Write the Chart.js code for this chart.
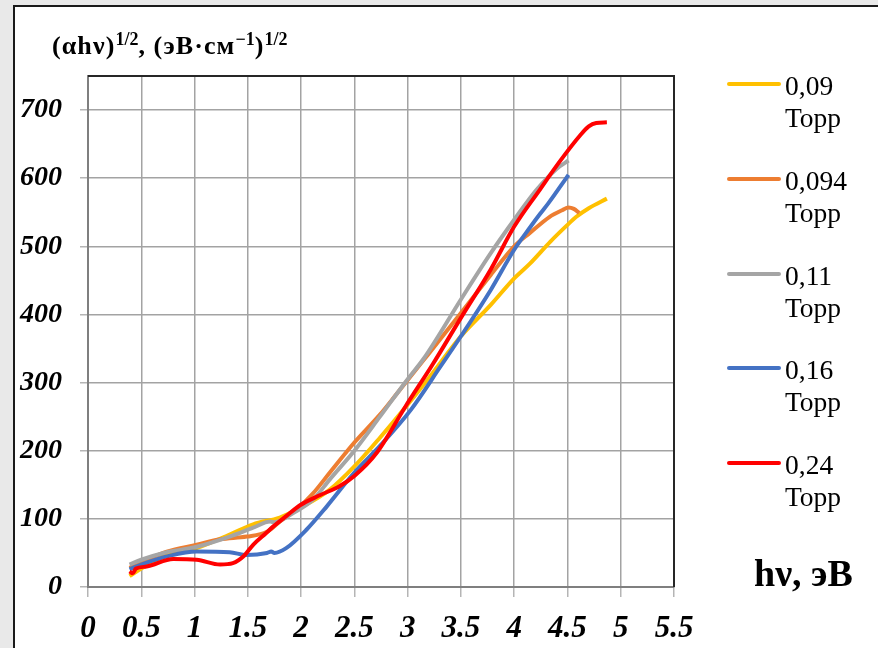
<!DOCTYPE html>
<html lang="ru">
<head>
<meta charset="utf-8">
<title>(αhν)^1/2 — hν</title>
<script src="https://cdn.jsdelivr.net/npm/chart.js@4/dist/chart.umd.min.js"></script>
<style>
  html, body { margin: 0; padding: 0; }
  body {
    width: 878px; height: 648px; position: relative; overflow: hidden;
    background: #e9e9e9;
    font-family: "Liberation Serif", "Times New Roman", serif;
    color: #000;
  }
  #frame {
    position: absolute; left: 13px; top: 5px; width: 900px; height: 700px;
    background: #fff; border-left: 2px solid #1a1a1a; border-top: 2px solid #1a1a1a;
  }
  #chart { position: absolute; left: 0; top: 0; }
  .ytitle {
    position: absolute; left: 52px; top: 31px; font-weight: bold; font-size: 26px;
    letter-spacing: 1.1px; white-space: nowrap; line-height: 30px;
  }
  .ytitle sup { font-size: 18px; line-height: 0; vertical-align: 9px; letter-spacing: 0; }
  .xtitle {
    position: absolute; left: 754px; top: 553px; font-weight: bold; font-size: 38px;
    white-space: nowrap; line-height: 40px;
  }
  #legend { position: absolute; left: 727px; top: 0; }
  .item { position: absolute; left: 0; width: 150px; }
  .swatch { position: absolute; left: 0; top: -2px; width: 54px; height: 4px; border-radius: 2px; }
  .label { position: absolute; left: 58px; top: -14px; font-size: 27.5px; line-height: 32px; white-space: nowrap; }
</style>
</head>
<body>
<div id="frame"></div>
<canvas id="chart" width="878" height="648"></canvas>
<div class="ytitle">(αhν)<sup>1/2</sup>, (эВ·см<sup>−1</sup>)<sup>1/2</sup></div>
<div class="xtitle">hν, эВ</div>
<div id="legend"></div>
<script>
// ---------- данные: hν (эВ) и (αhν)^1/2 для каждого давления ----------
const hv09  = [0.39, 0.5, 0.71, 1.02, 1.33, 1.55, 1.8, 2.0, 2.27, 2.5, 2.74, 2.96, 3.21, 3.5, 3.78, 4.0, 4.15, 4.34, 4.49, 4.58, 4.7, 4.87];
const y09   = [16, 27, 45, 57, 77, 92, 102, 117, 143, 177, 219, 260, 309, 368, 414, 453, 475, 507, 530, 543, 556, 570];

const hv094 = [0.39, 0.5, 0.74, 1.02, 1.24, 1.49, 1.68, 1.8, 1.96, 2.11, 2.27, 2.5, 2.74, 2.9, 3.15, 3.5, 3.78, 4.0, 4.15, 4.33, 4.45, 4.51, 4.56, 4.61];
const y094  = [28, 36, 52, 62, 70, 74, 81, 96, 114, 137, 168, 212, 253, 284, 333, 402, 458, 500, 520, 543, 553, 557, 555, 549];

const hv011 = [0.39, 0.5, 0.71, 1.02, 1.33, 1.55, 1.71, 1.75, 1.93, 2.11, 2.27, 2.5, 2.74, 3.0, 3.15, 3.5, 3.78, 4.0, 4.21, 4.4, 4.51];
const y011  = [33, 40, 50, 59, 74, 87, 96, 95, 109, 128, 158, 200, 250, 305, 335, 422, 490, 539, 583, 614, 626];

const hv016 = [0.39, 0.5, 0.77, 1.02, 1.33, 1.49, 1.68, 1.72, 1.75, 1.86, 2.05, 2.24, 2.5, 2.74, 3.03, 3.31, 3.5, 3.78, 4.0, 4.15, 4.24, 4.32, 4.51];
const y016  = [26, 33, 46, 52, 51, 47, 50, 52, 50, 57, 84, 118, 168, 207, 260, 324, 368, 436, 495, 528, 547, 563, 605];

const hv024 = [0.39, 0.42, 0.45, 0.55, 0.8, 1.02, 1.24, 1.36, 1.46, 1.55, 1.67, 1.74, 1.86, 1.99, 2.18, 2.36, 2.5, 2.71, 2.98, 3.24, 3.5, 3.78, 4.0, 4.24, 4.43, 4.62, 4.7, 4.77, 4.87];
const y024  = [23, 20, 27, 30, 41, 40, 33, 35, 45, 62, 79, 89, 104, 120, 135, 148, 163, 197, 265, 328, 395, 466, 529, 583, 625, 663, 676, 681, 682];

const seriesNames  = [['0,09', 'Торр'], ['0,094', 'Торр'], ['0,11', 'Торр'], ['0,16', 'Торр'], ['0,24', 'Торр']];
const seriesColors = ['#FFC000', '#ED7D31', '#A5A5A5', '#4472C4', '#FF0000'];
const seriesX = [hv09, hv094, hv011, hv016, hv024];
const seriesY = [y09, y094, y011, y016, y024];

// ---------- оси ----------
const xMin = 0, xMax = 5.5, xStep = 0.5;
const yMin = 0, yMax = 750, yStep = 100;

const FONT = '"Liberation Serif", "Times New Roman", serif';

// рамка области построения (верх и правый край)
const plotFrame = {
  id: 'plotFrame',
  beforeDatasetsDraw(chart) {
    const { ctx, chartArea: a } = chart;
    ctx.save();
    ctx.strokeStyle = '#262626';
    ctx.lineWidth = 2;
    ctx.beginPath();
    ctx.moveTo(a.left, a.top);
    ctx.lineTo(a.right, a.top);
    ctx.lineTo(a.right, a.bottom);
    ctx.stroke();
    ctx.restore();
  }
};

const datasets = seriesY.map((ys, i) => ({
  label: seriesNames[i].join(' '),
  data: ys.map((y, k) => ({ x: seriesX[i][k], y })),
  borderColor: seriesColors[i],
  backgroundColor: seriesColors[i],
  borderWidth: 4,
  pointRadius: 0,
  showLine: true,
  fill: false,
  cubicInterpolationMode: 'monotone',
  order: seriesY.length - i   // последняя серия рисуется поверх, как в Excel
}));

const chart = new Chart(document.getElementById('chart'), {
  type: 'scatter',
  data: { datasets },
  plugins: [plotFrame],
  options: {
    responsive: false,
    animation: false,
    devicePixelRatio: 1,
    layout: { padding: { left: 0, top: 76, right: 204, bottom: 0 } },
    plugins: { legend: { display: false }, tooltip: { enabled: false } },
    scales: {
      x: {
        type: 'linear', min: xMin, max: xMax,
        afterFit: s => { s.height = 61; },
        border: { color: '#7f7f7f', width: 2 },
        grid: { color: '#a3a3a3', lineWidth: 1.5, tickColor: '#b5b5b5', tickLength: 10 },
        ticks: {
          stepSize: xStep, color: '#000', padding: 13,
          font: { family: FONT, size: 31, weight: 'bold', style: 'italic' },
          callback: v => String(v)
        }
      },
      y: {
        type: 'linear', min: yMin, max: yMax,
        afterFit: s => { s.width = 88; },
        border: { color: '#7f7f7f', width: 2 },
        grid: { color: '#a3a3a3', lineWidth: 1.5, tickColor: '#b5b5b5', tickLength: 8 },
        ticks: {
          stepSize: yStep, includeBounds: false, color: '#000', padding: 18,
          font: { family: FONT, size: 28, weight: 'bold', style: 'italic' },
          callback: v => String(v)
        }
      }
    }
  }
});

// ---------- легенда справа ----------
function renderLegend() {
  const box = document.getElementById('legend');
  chart.data.datasets.forEach((ds, i) => {
    const item = document.createElement('div');
    item.className = 'item';
    item.style.top = (84 + i * 94.8) + 'px';
    item.innerHTML = `
      <div class="swatch" style="background:${ds.borderColor}"></div>
      <div class="label">${seriesNames[i][0]}<br>${seriesNames[i][1]}</div>
    `;
    box.appendChild(item);
  });
}
renderLegend();
</script>
</body>
</html>
